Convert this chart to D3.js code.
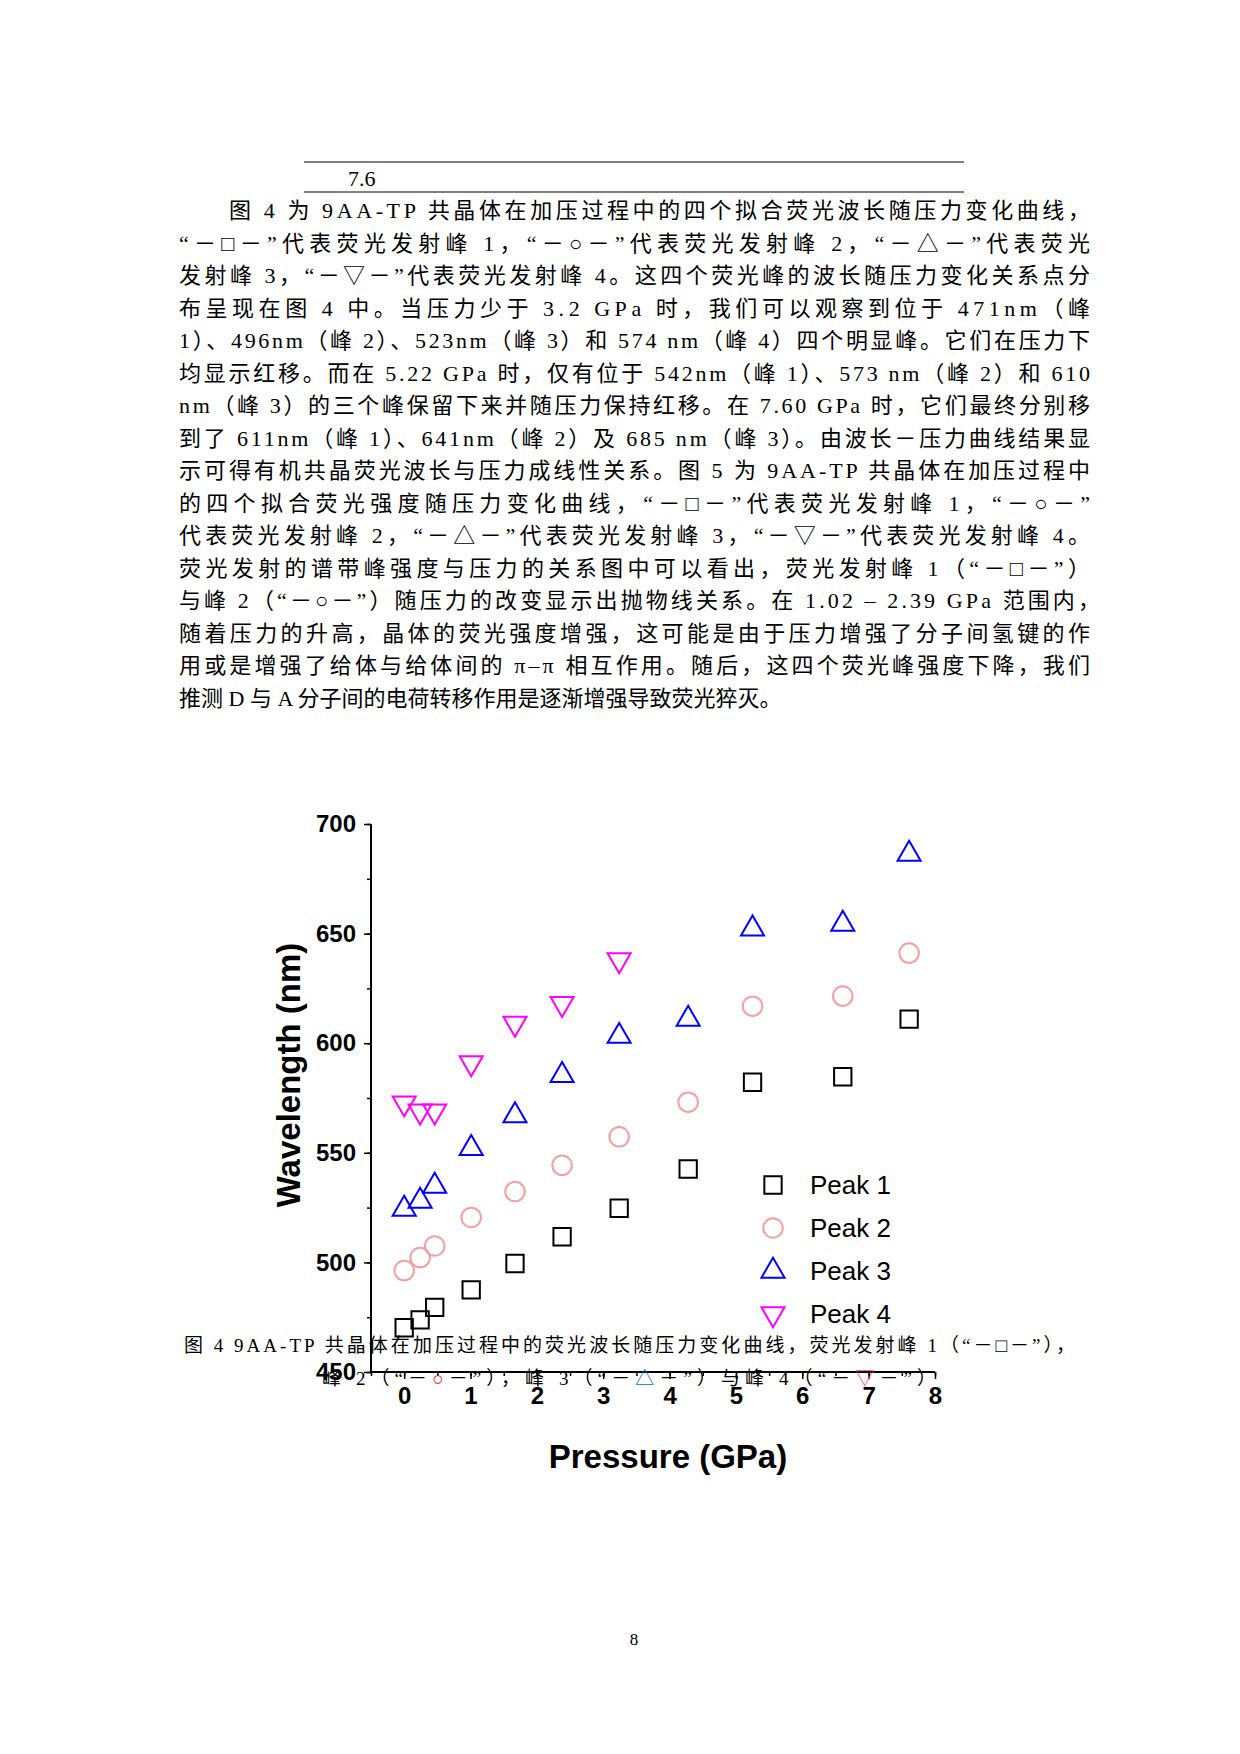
<!DOCTYPE html>
<html><head><meta charset="utf-8">
<script src="https://cdn.jsdelivr.net/npm/d3@7"></script>
<style>
body{margin:0;background:#fff}
.body{font-family:"Liberation Serif","Noto Sans CJK SC",serif;font-size:22px}
.tick text{font-family:"Liberation Sans",Arial,sans-serif;font-weight:bold;font-size:24px}
</style></head>
<body><svg id="page" width="1240" height="1754"></svg>
<script>
// data
const pressure = [0, 0.24, 0.46, 1.01, 1.67, 2.38, 3.24, 4.28, 5.25, 6.61, 7.61];
const peak1 = [470.2, 473.8, 479.5, 487.5, 499.5, 511.7, 524.7, 542.6, 582.2, 584.7, 611];
const peak2 = [496.3, 502.2, 507.5, 520.5, 532.3, 544.3, 557.3, 573.1, 616.9, 621.5, 641.1];
const peak3 = [524.3, 528, 534.8, 552, 567, 585.3, 603.2, 611, 652.2, 654.3, 686.3];
const peak4 = [572.7, 569, 569, 591, 609, 618, 638];
const seriesNames = ["Peak 1", "Peak 2", "Peak 3", "Peak 4"];
const xTicks = [0, 1, 2, 3, 4, 5, 6, 7, 8];
const yTicks = [450, 500, 550, 600, 650, 700];

const bodyLines = [
  "图 4 为 9AA-TP 共晶体在加压过程中的四个拟合荧光波长随压力变化曲线，",
  "“－□－”代表荧光发射峰 1，“－○－”代表荧光发射峰 2，“－△－”代表荧光",
  "发射峰 3，“－▽－”代表荧光发射峰 4。这四个荧光峰的波长随压力变化关系点分",
  "布呈现在图 4 中。当压力少于 3.2 GPa 时，我们可以观察到位于 471nm（峰",
  "1）、496nm（峰 2）、523nm（峰 3）和 574 nm（峰 4）四个明显峰。它们在压力下",
  "均显示红移。而在 5.22 GPa 时，仅有位于 542nm（峰 1）、573 nm（峰 2）和 610",
  "nm（峰 3）的三个峰保留下来并随压力保持红移。在 7.60 GPa 时，它们最终分别移",
  "到了 611nm（峰 1）、641nm（峰 2）及 685 nm（峰 3）。由波长－压力曲线结果显",
  "示可得有机共晶荧光波长与压力成线性关系。图 5 为 9AA-TP 共晶体在加压过程中",
  "的四个拟合荧光强度随压力变化曲线，“－□－”代表荧光发射峰 1，“－○－”",
  "代表荧光发射峰 2，“－△－”代表荧光发射峰 3，“－▽－”代表荧光发射峰 4。",
  "荧光发射的谱带峰强度与压力的关系图中可以看出，荧光发射峰 1（“－□－”）",
  "与峰 2（“－○－”）随压力的改变显示出抛物线关系。在 1.02 – 2.39 GPa 范围内，",
  "随着压力的升高，晶体的荧光强度增强，这可能是由于压力增强了分子间氢键的作",
  "用或是增强了给体与给体间的 π–π 相互作用。随后，这四个荧光峰强度下降，我们",
  "推测 D 与 A 分子间的电荷转移作用是逐渐增强导致荧光猝灭。"
];

const svg = d3.select('#page');

// header rules
svg.append('line').attr('x1', 304).attr('x2', 964).attr('y1', 162).attr('y2', 162).attr('stroke', '#000');
svg.append('line').attr('x1', 304).attr('x2', 964).attr('y1', 192).attr('y2', 192).attr('stroke', '#000');
svg.append('text').attr('class', 'body').attr('x', 348).attr('y', 186).text('7.6');

bodyLines.forEach((t, i) => {
    const x0 = i === 0 ? 229 : 179;
    const last = i === bodyLines.length - 1;
    const el = svg.append('text').attr('class', 'body')
        .attr('x', x0).attr('y', 218 + i * 32.5).text(t);
    if (!last) el.attr('textLength', (i === 12 ? 1100 : 1090) - x0).attr('lengthAdjust', 'spacing');
});

// chart
const plotLeft = 371, plotRight = 935, plotTop = 824, plotBottom = 1372;
const x = d3.scaleLinear().domain([-0.5, 8]).range([plotLeft, plotRight]);
const y = d3.scaleLinear().domain([450, 700]).range([plotBottom, plotTop]);

const chart = svg.append('g');
chart.append('g').attr('transform', `translate(0,${plotBottom})`)
    .call(d3.axisBottom(x).tickValues(d3.range(-0.5, 8.01, 0.5)).tickSize(4).tickFormat(''))
    .call(g => g.select('.domain').attr('stroke-width', 2).attr('d', `M${plotLeft},0H${plotRight}`));
chart.append('g').attr('transform', `translate(0,${plotBottom})`)
    .call(d3.axisBottom(x).tickValues(xTicks).tickSize(7).tickPadding(8))
    .call(g => g.select('.domain').remove());
chart.append('g').attr('transform', `translate(${plotLeft},0)`)
    .call(d3.axisLeft(y).tickValues(d3.range(450, 701, 25)).tickSize(4).tickFormat(''))
    .call(g => g.select('.domain').attr('stroke-width', 2).attr('d', `M0,${plotTop}V${plotBottom}`));
chart.append('g').attr('transform', `translate(${plotLeft},0)`)
    .call(d3.axisLeft(y).tickValues(yTicks).tickSize(7).tickPadding(8))
    .call(g => g.select('.domain').remove());
chart.selectAll('.tick line').attr('stroke-width', 1.5);

const styles = [
    {data: peak1, color: '#000', sym: d3.symbolSquare, size: 300},
    {data: peak2, color: '#f4a0a0', sym: d3.symbolCircle, size: 300},
    {data: peak3, color: '#0000ff', sym: d3.symbolTriangle, size: 230},
    {data: peak4, color: '#ff00ff', sym: d3.symbolTriangle, size: 230, flip: true}
];
styles.forEach(s => {
    const sym = d3.symbol().type(s.sym).size(s.size);
    chart.append('g').selectAll('path').data(s.data).join('path')
        .attr('d', sym)
        .attr('transform', (v, i) => `translate(${x(pressure[i])},${y(v)})${s.flip ? ' rotate(180)' : ''}`)
        .attr('fill', 'none').attr('stroke', s.color).attr('stroke-width', 2);
});

// legend
const legend = chart.append('g');
seriesNames.forEach((name, i) => {
    const s = styles[i];
    const ly = 1185 + i * 43;
    legend.append('path').attr('d', d3.symbol().type(s.sym).size(s.size))
        .attr('transform', `translate(773,${ly})${s.flip ? ' rotate(180)' : ''}`)
        .attr('fill', 'none').attr('stroke', s.color).attr('stroke-width', 2);
    legend.append('text').attr('x', 810).attr('y', ly + 9)
        .style('font-family', '"Liberation Sans",Arial,sans-serif').style('font-size', '26px')
        .text(name);
});

svg.append('text').attr('transform', 'translate(300,1075) rotate(-90)')
    .attr('text-anchor', 'middle')
    .style('font-family', '"Liberation Sans",Arial,sans-serif').style('font-weight', 'bold').style('font-size', '33px')
    .text('Wavelength (nm)');
svg.append('text').attr('x', 668).attr('y', 1468).attr('text-anchor', 'middle')
    .style('font-family', '"Liberation Sans",Arial,sans-serif').style('font-weight', 'bold').style('font-size', '33px')
    .text('Pressure (GPa)');

// caption
const cap = svg.append('g').style('font-family', '"Liberation Serif","Noto Sans CJK SC",serif').style('font-size', '19px');
cap.append('text').attr('x', 184).attr('y', 1352).attr('textLength', 891).attr('lengthAdjust', 'spacing')
    .text('图 4 9AA-TP 共晶体在加压过程中的荧光波长随压力变化曲线，荧光发射峰 1（“－□－”），');
const c2 = cap.append('text').attr('x', 322).attr('y', 1385).attr('textLength', 614).attr('lengthAdjust', 'spacing');
c2.append('tspan').text('峰 2（“－');
c2.append('tspan').attr('fill', '#ff0000').text('○');
c2.append('tspan').text('－”），峰 3（“－');
c2.append('tspan').attr('fill', '#0070c0').text('△');
c2.append('tspan').text('－”）与峰 4（“－');
c2.append('tspan').attr('fill', '#ff3399').text('▽');
c2.append('tspan').text('－”）');

svg.append('text').attr('class', 'body').attr('x', 634).attr('y', 1645).attr('text-anchor', 'middle')
    .style('font-size', '17px').text('8');
</script>
</body></html>
